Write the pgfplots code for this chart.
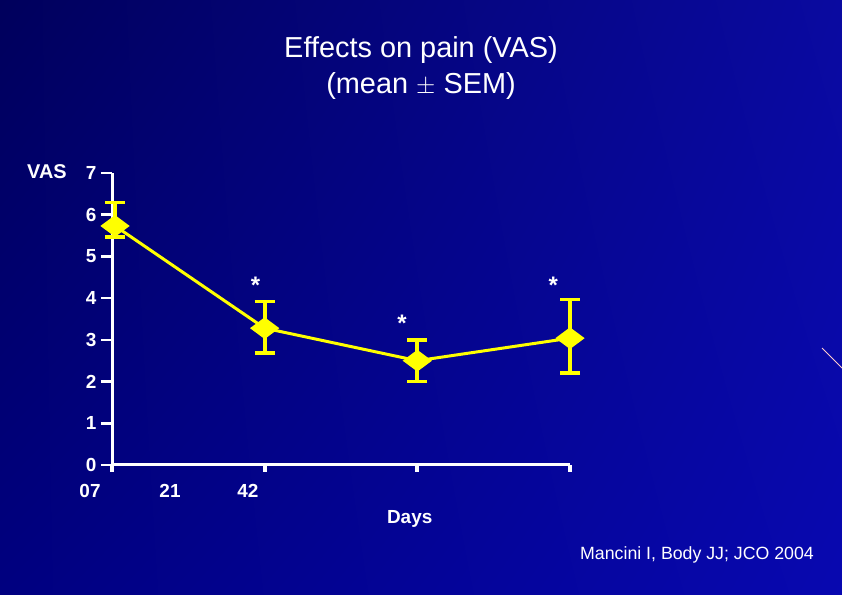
\documentclass[border=0pt]{standalone}
\usepackage{pgfplots}
\pgfplotsset{compat=1.18}
\usepackage{pgfplotstable}
\usetikzlibrary{shadings}
\usepackage{fontspec}
\setmainfont{Liberation Sans}
\definecolor{bgUL}{RGB}{0,0,92}
\definecolor{bgUR}{RGB}{10,10,160}
\definecolor{bgLL}{RGB}{0,0,128}
\definecolor{bgLR}{RGB}{8,8,176}
\definecolor{yel}{RGB}{255,255,0}
\pgfplotstableread{
x y ep em
0.02 5.73 0.56 0.26
1 3.28 0.64 0.60
2 2.50 0.50 0.50
3 3.04 0.93 0.84
}\vasdata
\begin{document}
\begin{tikzpicture}[x=1bp,y=1bp]
\path[use as bounding box] (0,0) rectangle (842,595);
\shade[upper left=bgUL, upper right=bgUR, lower left=bgLL, lower right=bgLR] (0,0) rectangle (842,595);
\draw[pink!80!white, line width=1bp] (822,247) -- (842,227);
\node[white, align=center, font=\fontsize{29}{37}\selectfont] at (421,527) {Effects on pain (VAS)\\(mean $\pm$ SEM)};
\node[white, font=\fontsize{17.8}{20}\selectfont] at (697,40) {Mancini I, Body JJ; JCO 2004};
\begin{axis}[
  at={(112bp,130bp)}, anchor=south west,
  scale only axis, width=458bp, height=292bp,
  xmin=0, xmax=3, ymin=0, ymax=7,
  axis lines=left,
  axis line style={white, line width=3bp, -},
  clip=false,
  xtick={0,1,2,3}, xticklabels={},
  ytick={0,1,...,7},
  tick align=outside,
  major tick length=11bp,
  xtick style={white, line width=4bp, /pgfplots/major tick length=7bp},
  ytick style={white, line width=2.5bp},
  /pgf/number format/assume math mode=true,
  yticklabel style={white, font=\bfseries\fontsize{19}{20}\selectfont, xshift=-1bp},
]
\addplot[yel, line width=3bp, mark=diamond*, mark size=9bp,
  mark options={xscale=1.8, solid, fill=yel},
  error bars/.cd, y dir=both, y explicit,
  error bar style={line width=4bp, yel},
  error mark options={rotate=90, mark size=10bp, line width=3.5bp, yel}]
  table[x=x, y=y, y error plus=ep, y error minus=em] {\vasdata};
\node[white, font=\bfseries\fontsize{24}{24}\selectfont] at (axis cs:0.94,4.30) {*};
\node[white, font=\bfseries\fontsize{24}{24}\selectfont] at (axis cs:1.90,3.40) {*};
\node[white, font=\bfseries\fontsize{24}{24}\selectfont] at (axis cs:2.89,4.30) {*};
\node[white, font=\bfseries\fontsize{19}{20}\selectfont] at (axis cs:-0.144,-0.62) {07};
\node[white, font=\bfseries\fontsize{19}{20}\selectfont] at (axis cs:0.38,-0.62) {21};
\node[white, font=\bfseries\fontsize{19}{20}\selectfont] at (axis cs:0.89,-0.62) {42};
\node[white, font=\bfseries\fontsize{19}{20}\selectfont] at (axis cs:1.95,-1.3) {Days};
\node[white, font=\bfseries\fontsize{20}{20}\selectfont] at (axis cs:-0.426,7.03) {VAS};
\end{axis}
\end{tikzpicture}
\end{document}
